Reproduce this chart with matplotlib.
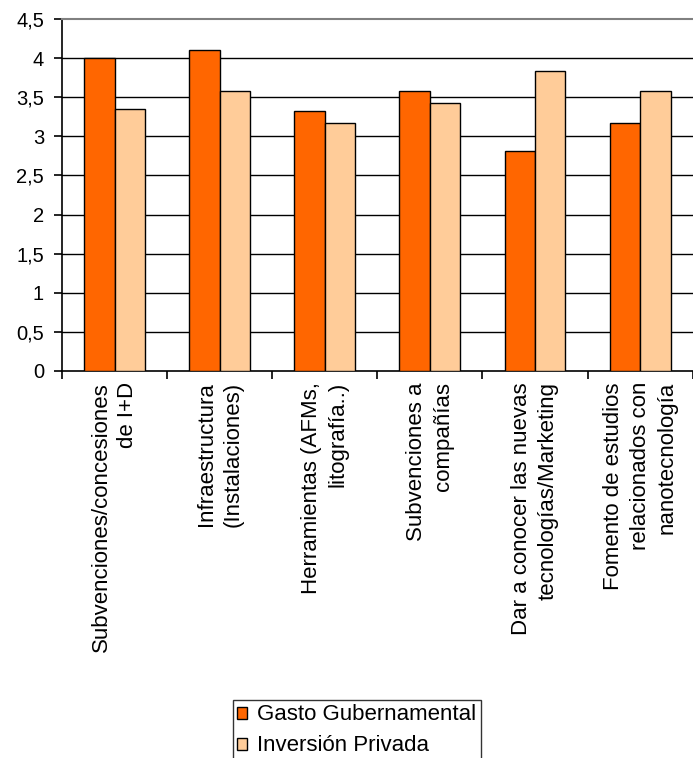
import matplotlib
matplotlib.use("Agg")
import matplotlib.pyplot as plt
import numpy as np
from matplotlib.ticker import FuncFormatter, FixedLocator

plt.rcParams['font.family'] = ['Liberation Sans', 'DejaVu Sans']

# datos
categorias = [
    "Subvenciones/concesiones\nde I+D",
    "Infraestructura\n(Instalaciones)",
    "Herramientas (AFMs,\nlitografía..)",
    "Subvenciones a\ncompañías",
    "Dar a conocer las nuevas\ntecnologías/Marketing",
    "Fomento de estudios\nrelacionados con\nnanotecnología",
]
gasto_gub = [4.0, 4.1, 3.33, 3.58, 2.81, 3.17]
inversion_priv = [3.35, 3.58, 3.17, 3.43, 3.84, 3.58]
series = ["Gasto Gubernamental", "Inversión Privada"]
colores = ["#FF6600", "#FFCC99"]
yticks = [0, 0.5, 1, 1.5, 2, 2.5, 3, 3.5, 4, 4.5]

fig = plt.figure(figsize=(6.93, 7.58), dpi=100)
ax = fig.add_axes([0.0895, 0.5106, 0.91, 0.4643])

x = np.arange(len(categorias))
w = 0.29
b1 = ax.bar(x - w / 2, gasto_gub, w, color=colores[0], edgecolor="black", linewidth=1, zorder=3, label=series[0])
b2 = ax.bar(x + w / 2, inversion_priv, w, color=colores[1], edgecolor="black", linewidth=1, zorder=3, label=series[1])

ax.set_xlim(-0.5, len(categorias) - 0.5)
ax.set_ylim(0, 4.5)
ax.set_yticks(yticks)
ax.yaxis.set_major_formatter(FuncFormatter(lambda v, p: ("%g" % v).replace(".", ",")))
for yv in yticks[1:-1]:
    ax.axhline(yv, color="black", linewidth=1, zorder=1)

ax.spines["right"].set_visible(False)
ax.spines["top"].set_color("#808080")
ax.spines["top"].set_linewidth(1.5)
ax.spines["left"].set_linewidth(1.2)
ax.spines["bottom"].set_linewidth(1.2)

ax.set_xticks(x)
ax.set_xticklabels(categorias, rotation=90, ha="center", va="top", multialignment="right",
                   fontsize=16, linespacing=1.35)
ax.tick_params(axis="x", which="major", length=0, pad=8)
ax.xaxis.set_minor_locator(FixedLocator(np.arange(-0.5, len(categorias), 1.0)))
ax.tick_params(axis="x", which="minor", length=6, width=1.2, direction="out")
ax.tick_params(axis="y", length=6, width=1.2, direction="out", labelsize=14.5, pad=7)

fig.legend(handles=[b1, b2], labels=series, loc="upper left", bbox_to_anchor=(0.336, 0.0765),
           frameon=True, fancybox=False, edgecolor="black", fontsize=16,
           handlelength=0.45, handleheight=0.45, handletextpad=0.45, borderpad=0.2,
           labelspacing=0.45, borderaxespad=0)

fig.savefig("out.png", dpi=100)
